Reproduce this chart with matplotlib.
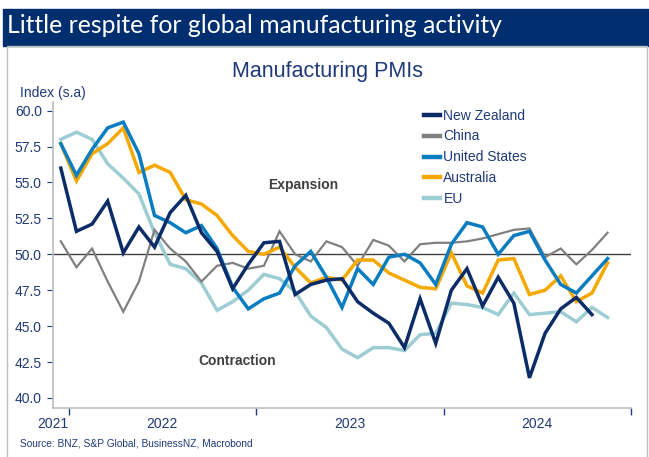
import numpy as np
import matplotlib.pyplot as plt
from matplotlib.patches import Rectangle
from matplotlib.lines import Line2D

plt.rcParams['font.family'] = ['Liberation Sans', 'DejaVu Sans']

# monthly manufacturing PMIs, Dec 2021 - Nov 2024
nz = [56.0, 51.6, 52.1, 53.7, 50.1, 51.9, 50.5, 52.9, 54.1, 51.5, 50.2, 47.6,
      49.3, 50.8, 50.9, 47.2, 47.9, 48.2, 48.3, 46.7, 45.9, 45.2, 43.5, 46.9,
      43.8, 47.5, 49.0, 46.4, 48.4, 46.6, 41.4, 44.5, 46.2, 47.0, 45.8]
china = [50.9, 49.1, 50.4, 48.1, 46.0, 48.1, 51.7, 50.4, 49.5, 48.1, 49.2, 49.4,
         49.0, 49.2, 51.6, 50.0, 49.5, 50.9, 50.5, 49.2, 51.0, 50.6, 49.5, 50.7,
         50.8, 50.8, 50.9, 51.1, 51.4, 51.7, 51.8, 49.8, 50.4, 49.3, 50.3, 51.5]
us = [57.7, 55.5, 57.3, 58.8, 59.2, 57.0, 52.7, 52.2, 51.5, 52.0, 50.4, 47.7,
      46.2, 46.9, 47.3, 49.2, 50.2, 48.4, 46.3, 49.0, 47.9, 49.8, 50.0, 49.4,
      47.9, 50.7, 52.2, 51.9, 50.0, 51.3, 51.6, 49.6, 47.9, 47.3, 48.5, 49.7]
australia = [57.7, 55.1, 57.0, 57.7, 58.8, 55.7, 56.2, 55.7, 53.8, 53.5, 52.7, 51.3,
             50.2, 50.0, 50.5, 49.1, 48.0, 48.4, 48.2, 49.6, 49.6, 48.7, 48.2, 47.7,
             47.6, 50.1, 47.8, 47.3, 49.6, 49.7, 47.2, 47.5, 48.5, 46.7, 47.3, 49.4]
eu = [58.0, 58.5, 58.0, 56.3, 55.3, 54.2, 51.5, 49.3, 49.0, 48.0, 46.1, 46.7,
      47.5, 48.6, 48.3, 47.4, 45.7, 44.9, 43.4, 42.8, 43.5, 43.5, 43.3, 44.4,
      44.5, 46.6, 46.5, 46.3, 45.8, 47.3, 45.8, 45.9, 46.0, 45.3, 46.3, 45.6]

names = ['New Zealand', 'China', 'United States', 'Australia', 'EU']
colors = ['#0B2C67', '#808080', '#0A7DC1', '#F5A800', '#9DCDD3']
widths = [2.5, 1.6, 2.5, 2.5, 2.5]
series = [nz, china, us, australia, eu]

year_labels = ['2021', '2022', '2023', '2024']
navy = '#1E3A78'

fig = plt.figure(figsize=(6.49, 4.57), dpi=100)

# header band and panel frame
fig.patches.append(Rectangle((3 / 649, 1 - 45.5 / 457), 646 / 649, 37 / 457,
                             transform=fig.transFigure, color='#002E6E', zorder=0))
fig.patches.append(Rectangle((6.5 / 649, -0.1), 640.5 / 649, 1.1 - 46.5 / 457,
                             transform=fig.transFigure, fill=False,
                             edgecolor='#BDBDBD', lw=1, zorder=0))
fig.text(7 / 649, 1 - 33 / 457, 'Little respite for global manufacturing activity',
         family=['Lato', 'DejaVu Sans'], fontsize=17.8, color='white', va='baseline')
fig.text(327 / 649, 1 - 77.3 / 457, 'Manufacturing PMIs', fontsize=15.5,
         color=navy, ha='center', va='baseline')
fig.text(20 / 649, 1 - 97 / 457, 'Index (s.a)', fontsize=10, color=navy, va='baseline')
fig.text(20 / 649, 1 - 444 / 457, 'Source: BNZ, S&P Global, BusinessNZ, Macrobond',
         fontsize=7.3, color=navy, va='center')

ax = fig.add_axes([53 / 649, 49 / 457, 578 / 649, 306 / 457])

order = [4, 1, 3, 2, 0]
for i in order:
    ax.plot(np.arange(len(series[i])), series[i], color=colors[i], lw=widths[i],
            solid_joinstyle='miter', zorder=3 + order.index(i))

ax.axhline(50, color='#404040', lw=1, zorder=2)

ax.set_xlim(-0.5, 36.5)
ax.set_ylim(39.3, 60.6)
ax.set_yticks(np.arange(40, 60.1, 2.5))
ax.set_yticklabels([f'{v:.1f}' for v in np.arange(40, 60.1, 2.5)])

# year boundaries get the tick marks, year names sit mid-year
ax.set_xticks([0.5, 12.5, 24.5, 36.5])
ax.set_xticklabels([])
ax.tick_params(axis='x', which='major', length=5, color=navy, width=1)
ax.tick_params(axis='y', length=4, color=navy, labelsize=10, labelcolor=navy, pad=4)
for xpos, lab in zip([-0.5, 6.5, 18.5, 30.5], year_labels):
    ax.text(xpos, -0.052, lab, transform=ax.get_xaxis_transform(), fontsize=10,
            color=navy, ha='center', va='center')

for s in ['top', 'right']:
    ax.spines[s].set_visible(False)
for s in ['left', 'bottom']:
    ax.spines[s].set_color('#BDBDBD')
    ax.spines[s].set_linewidth(1.2)

ax.text(15.5, 54.85, 'Expansion', fontsize=10, fontweight='bold', color='#404040',
        ha='center', va='center')
ax.text(11.3, 42.55, 'Contraction', fontsize=10, fontweight='bold', color='#404040',
        ha='center', va='center')

handles = [Line2D([0], [0], color=c, lw=3.2) for c in colors]
fig.legend(handles, names, loc='upper left', bbox_to_anchor=(424 / 649, 1 - 108.5 / 457),
           frameon=False, fontsize=10, handlelength=1.15, handletextpad=0.25,
           labelspacing=0.5, borderpad=0, borderaxespad=0, labelcolor=navy)

fig.savefig('out.png', dpi=100)
